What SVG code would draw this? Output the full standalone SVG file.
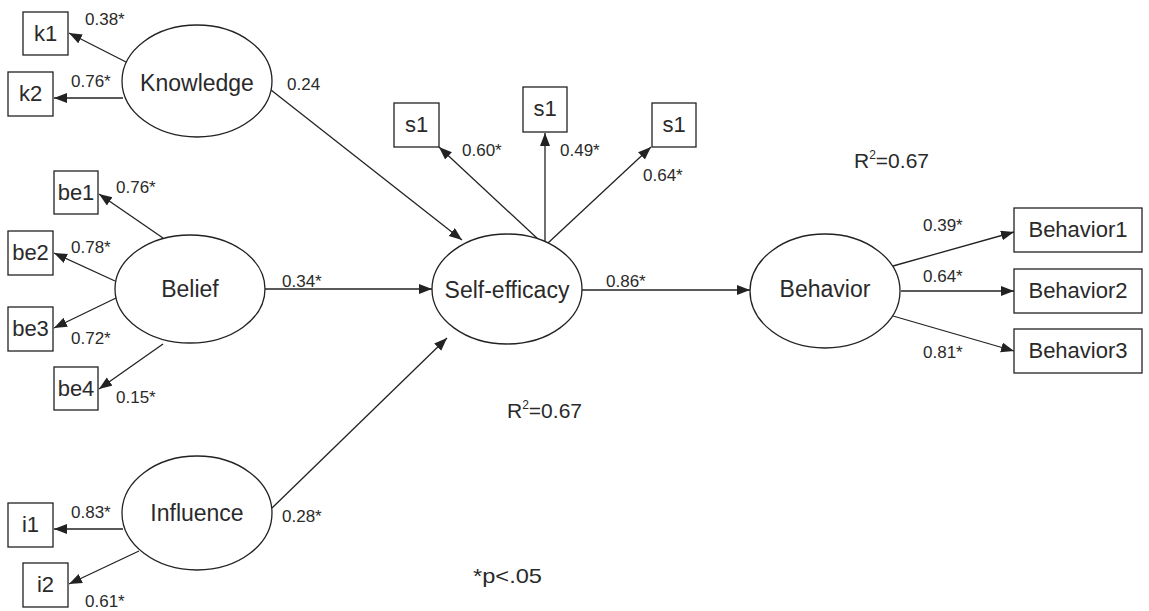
<svg xmlns="http://www.w3.org/2000/svg" width="1149" height="611" viewBox="0 0 1149 611">
<style>
  .node ellipse{fill:#fff;stroke:#222;stroke-width:1.3}
  .box rect{fill:#fff;stroke:#222;stroke-width:1.3}
  text{font-family:"Liberation Sans",Arial,sans-serif;fill:#2a2a2a}
  .nl{font-size:23px;text-anchor:middle}
  .bl{font-size:22px;text-anchor:middle}
  .el{font-size:17px}
  .note{font-size:21px}
  #edges line{stroke:#222;stroke-width:1.3;marker-end:url(#ah)}
</style>
<defs>
  <marker id="ah" markerUnits="userSpaceOnUse" markerWidth="14" markerHeight="11" refX="13" refY="5" orient="auto">
    <path d="M0,0 L13,5 L0,10 z" fill="#222"/>
  </marker>
</defs>
<rect width="1149" height="611" fill="#fff"/>
<g id="edges">
  <line x1="126" y1="62" x2="69" y2="33"/>
  <line x1="123" y1="98" x2="54" y2="98"/>
  <line x1="163" y1="238" x2="99" y2="194"/>
  <line x1="115" y1="281" x2="54" y2="253"/>
  <line x1="116" y1="298" x2="54" y2="328"/>
  <line x1="163" y1="344" x2="99" y2="389"/>
  <line x1="123" y1="529" x2="54" y2="529"/>
  <line x1="139" y1="551" x2="69" y2="584"/>
  <line x1="271" y1="90" x2="462" y2="240"/>
  <line x1="265" y1="289" x2="432" y2="289"/>
  <line x1="272" y1="508" x2="447" y2="338"/>
  <line x1="539" y1="240" x2="439" y2="147"/>
  <line x1="545" y1="242" x2="545" y2="133"/>
  <line x1="548" y1="243" x2="651" y2="147"/>
  <line x1="582" y1="290" x2="750" y2="290"/>
  <line x1="893" y1="266" x2="1014" y2="232"/>
  <line x1="901" y1="291" x2="1014" y2="291"/>
  <line x1="893" y1="316" x2="1014" y2="351"/>
</g>
<g id="edge-labels">
  <text class="el" x="85" y="25">0.38*</text>
  <text class="el" x="71" y="87">0.76*</text>
  <text class="el" x="287" y="90">0.24</text>
  <text class="el" x="116" y="193">0.76*</text>
  <text class="el" x="71" y="253">0.78*</text>
  <text class="el" x="282" y="287">0.34*</text>
  <text class="el" x="71" y="344">0.72*</text>
  <text class="el" x="116" y="403">0.15*</text>
  <text class="el" x="71" y="518">0.83*</text>
  <text class="el" x="85" y="607">0.61*</text>
  <text class="el" x="282" y="522">0.28*</text>
  <text class="el" x="462" y="156">0.60*</text>
  <text class="el" x="560" y="156">0.49*</text>
  <text class="el" x="643" y="181">0.64*</text>
  <text class="el" x="606" y="287">0.86*</text>
  <text class="el" x="923" y="231">0.39*</text>
  <text class="el" x="923" y="282">0.64*</text>
  <text class="el" x="923" y="358">0.81*</text>
</g>
<g id="knowledge" class="node"><ellipse cx="197" cy="81" rx="75" ry="56"/><text class="nl" x="197" y="91">Knowledge</text></g>
<g id="belief" class="node"><ellipse cx="190" cy="289" rx="75" ry="54"/><text class="nl" x="190" y="297">Belief</text></g>
<g id="influence" class="node"><ellipse cx="197" cy="513" rx="75" ry="57"/><text class="nl" x="197" y="521">Influence</text></g>
<g id="selfefficacy" class="node"><ellipse cx="507" cy="289" rx="75" ry="55"/><text class="nl" x="507" y="298">Self-efficacy</text></g>
<g id="behavior" class="node"><ellipse cx="825" cy="291" rx="75" ry="57"/><text class="nl" x="825" y="297">Behavior</text></g>
<g id="k1" class="box"><rect x="23" y="12" width="45" height="43"/><text class="bl" x="45.5" y="41">k1</text></g>
<g id="k2" class="box"><rect x="8" y="72" width="45" height="44"/><text class="bl" x="30.5" y="101">k2</text></g>
<g id="be1" class="box"><rect x="54" y="171" width="44" height="43"/><text class="bl" x="76" y="200">be1</text></g>
<g id="be2" class="box"><rect x="8" y="231" width="45" height="44"/><text class="bl" x="30.5" y="260">be2</text></g>
<g id="be3" class="box"><rect x="8" y="307" width="45" height="44"/><text class="bl" x="30.5" y="336">be3</text></g>
<g id="be4" class="box"><rect x="54" y="367" width="44" height="43"/><text class="bl" x="76" y="396">be4</text></g>
<g id="i1" class="box"><rect x="8" y="503" width="45" height="44"/><text class="bl" x="30.5" y="532">i1</text></g>
<g id="i2" class="box"><rect x="23" y="563" width="45" height="44"/><text class="bl" x="45.5" y="592">i2</text></g>
<g id="s1a" class="box"><rect x="394" y="103" width="45" height="44"/><text class="bl" x="416.5" y="132">s1</text></g>
<g id="s1b" class="box"><rect x="523" y="87" width="44" height="45"/><text class="bl" x="545" y="116">s1</text></g>
<g id="s1c" class="box"><rect x="652" y="103" width="44" height="44"/><text class="bl" x="674" y="132">s1</text></g>
<g id="behavior1" class="box"><rect x="1014" y="208" width="128" height="44"/><text class="bl" x="1078" y="237">Behavior1</text></g>
<g id="behavior2" class="box"><rect x="1014" y="269" width="128" height="44"/><text class="bl" x="1078" y="298">Behavior2</text></g>
<g id="behavior3" class="box"><rect x="1014" y="329" width="128" height="44"/><text class="bl" x="1078" y="358">Behavior3</text></g>
<g id="notes">
  <text class="note" x="854" y="168">R<tspan font-size="12" dy="-9">2</tspan><tspan dy="9">=0.67</tspan></text>
  <text class="note" x="507" y="418">R<tspan font-size="12" dy="-9">2</tspan><tspan dy="9">=0.67</tspan></text>
  <text class="note" x="473" y="583" textLength="69" lengthAdjust="spacingAndGlyphs">*p&lt;.05</text>
</g>
</svg>
